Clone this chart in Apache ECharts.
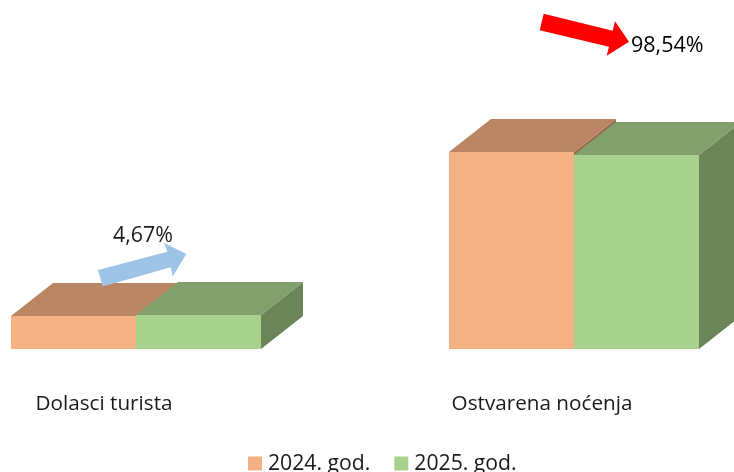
<!DOCTYPE html>
<html>
<head>
<meta charset="utf-8">
<title>Dolasci i noćenja</title>
<style>html,body{margin:0;padding:0;background:#fff;overflow:hidden}#main{width:734px;height:472px}</style>
<script src="https://cdn.jsdelivr.net/npm/echarts@6/dist/echarts.min.js"></script>
</head>
<body>
<div id="main"></div>
<script>
var categories = ['Dolasci turista', 'Ostvarena noćenja'];
var seriesNames = ['2024. god.', '2025. god.'];
var values2024 = [32.7, 197];
var values2025 = [34.2, 194.5];
var changeLabels = ['4,67%', '98,54%'];

var fontName = '"Open Sans", "Noto Sans", sans-serif';
var depthX = 42, depthY = 33, barW = 125;

// kvadar: prednja strana, vrh i bocna strana
function box(colors, side) {
    return function (params, api) {
        var cat = api.value(0);
        var top = api.coord([cat, api.value(1)]);
        var base = api.coord([cat, 0]);
        var x0 = side < 0 ? top[0] - barW : top[0];
        var x1 = x0 + barW;
        var yTop = Math.round(top[1]); // bez svijetle linije izmedju vrha i prednje strane
        return {
            type: 'group',
            children: [{
                type: 'polygon',
                shape: { points: [[x1, yTop], [x1 + depthX, yTop - depthY], [x1 + depthX, base[1] - depthY], [x1, base[1]]] },
                style: { fill: colors.side }
            }, {
                type: 'polygon',
                shape: { points: [[x0, yTop], [x0 + depthX, yTop - depthY], [x1 + depthX, yTop - depthY], [x1, yTop]] },
                style: { fill: colors.top }
            }, {
                type: 'rect',
                shape: { x: x0, y: yTop, width: barW, height: base[1] - yTop },
                style: { fill: colors.front }
            }]
        };
    };
}

function toData(arr) {
    return arr.map(function (v, i) { return [i, v]; });
}

var myChart = echarts.init(document.getElementById('main'));
var option = {
    animation: false,
    backgroundColor: '#ffffff',
    grid: { left: -83, right: -59, top: 0, bottom: 123, outerBoundsMode: 'none' },
    xAxis: {
        type: 'category',
        data: categories,
        axisLine: { show: false },
        axisTick: { show: false },
        axisLabel: {
            margin: 45,
            color: '#1a1a1a',
            fontFamily: fontName,
            fontSize: 20.7,
            padding: [0, 64, 0, 0]
        }
    },
    yAxis: { type: 'value', min: 0, max: 349, show: false },
    legend: {
        data: seriesNames,
        left: 248,
        top: 453,
        padding: 0,
        icon: 'rect',
        itemWidth: 14,
        itemHeight: 14,
        itemGap: 24,
        textStyle: { color: '#1a1a1a', fontFamily: fontName, fontSize: 21.2, padding: [0, 0, 0, 1] }
    },
    series: [{
        name: seriesNames[0],
        type: 'custom',
        clip: false,
        renderItem: box({ front: '#F4B183', top: '#BA8562', side: '#9A6C4E' }, -1),
        itemStyle: { color: '#F4B183' },
        encode: { x: 0, y: 1 },
        data: toData(values2024)
    }, {
        name: seriesNames[1],
        type: 'custom',
        clip: false,
        renderItem: box({ front: '#A9D18E', top: '#81A06C', side: '#6B8558' }, 1),
        itemStyle: { color: '#A9D18E' },
        encode: { x: 0, y: 1 },
        data: toData(values2025)
    }],
    graphic: [{
        type: 'polygon',
        z: 10,
        shape: { points: [[98, 270], [102.7, 286.5], [170.7, 267.3], [172.7, 276.5], [186.3, 254], [164, 242.7], [167.3, 251.7]] },
        style: { fill: '#9DC3E6' }
    }, {
        type: 'polygon',
        z: 10,
        shape: { points: [[543.7, 13.7], [539.7, 30.3], [609, 46.7], [606.7, 55.7], [629, 41.7], [615, 21.3], [612.7, 30.7]] },
        style: { fill: '#FF0000' }
    }, {
        type: 'text',
        z: 11,
        left: 113,
        top: 225,
        style: { text: changeLabels[0], fill: '#1a1a1a', font: '21.4px ' + fontName }
    }, {
        type: 'text',
        z: 11,
        left: 631,
        top: 35,
        style: { text: changeLabels[1], fill: '#000000', font: '21.5px ' + fontName }
    }]
};
myChart.setOption(option);
</script>
</body>
</html>
